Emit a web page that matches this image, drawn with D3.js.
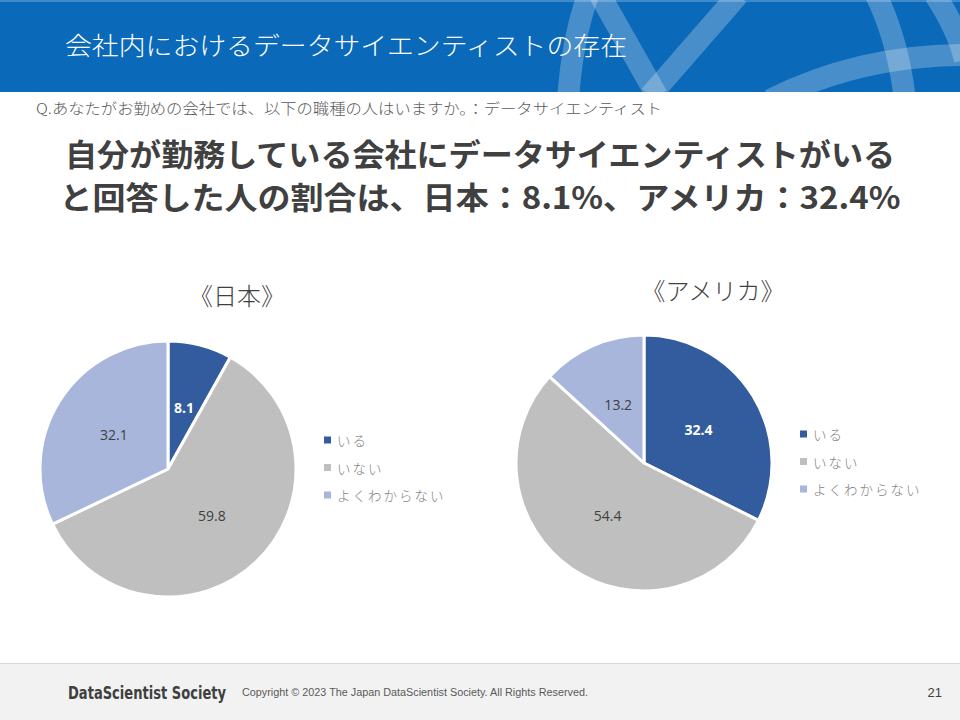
<html>

<head>
    <meta charset="utf-8" />
    <title>会社内におけるデータサイエンティストの存在</title>
    <script src="https://d3js.org/d3.v7.min.js"></script>
    <style>
        body {
            margin: 0;
            font-family: "Noto Sans CJK JP", "Noto Sans", sans-serif;
        }

        .legend-text {
            letter-spacing: 2px;
        }
    </style>
</head>

<body>
    <svg id="slide" width="960" height="720"></svg>
    <script>
        // data
        const categories = ["いる", "いない", "よくわからない"]
        const japanValues = [8.1, 59.8, 32.1]
        const usaValues = [32.4, 54.4, 13.2]
        const chartTitles = ["《日本》", "《アメリカ》"]

        const headerTitle = "会社内におけるデータサイエンティストの存在"
        const question = "Q.あなたがお勤めの会社では、以下の職種の人はいますか。：データサイエンティスト"
        const headline = ["自分が勤務している会社にデータサイエンティストがいる",
            "と回答した人の割合は、日本：8.1%、アメリカ：32.4%"]

        const svg = d3.select("svg#slide")
        const width = +svg.attr("width")
        const height = +svg.attr("height")

        const colorScale = d3.scaleOrdinal()
            .domain(categories)
            .range(["#335C9F", "#BFBFBF", "#A7B6DA"])

        // header band
        const header = svg.append("g").attr("id", "header")
        header.append("rect")
            .attr("x", 0).attr("y", 0).attr("width", width).attr("height", 92)
            .attr("fill", "#0A69B8")
        header.append("rect")
            .attr("x", 0).attr("y", 0).attr("width", width).attr("height", 2)
            .attr("fill", "#3F8ACB")

        // decorative strokes in the band
        const deco = header.append("clipPath").attr("id", "band-clip")
        deco.append("rect").attr("x", 0).attr("y", 0).attr("width", width).attr("height", 92)
        const strokes = header.append("g")
            .attr("clip-path", "url(#band-clip)")
            .attr("fill", "none")
            .attr("stroke", "#ffffff")
            .attr("stroke-opacity", 0.25)
            .attr("stroke-width", 22)
        strokes.append("path").attr("d", "M568,100 Q572,40 588,-5")
        strokes.append("path").attr("d", "M600,-5 L657,96")
        strokes.append("path").attr("d", "M738,-5 L650,96")
        strokes.append("path").attr("d", "M876,-5 Q898,40 905,100")
        strokes.append("path").attr("d", "M935,-5 Q958,30 965,60")
        strokes.append("path").attr("d", "M770,100 Q860,55 965,55")

        header.append("text")
            .attr("x", 65).attr("y", 55)
            .attr("fill", "#ffffff")
            .attr("font-size", 25)
            .attr("font-weight", 300)
            .attr("textLength", 562)
            .attr("lengthAdjust", "spacingAndGlyphs")
            .text(headerTitle)

        svg.append("text")
            .attr("x", 36).attr("y", 114)
            .attr("fill", "#595959")
            .attr("font-size", 14.5)
            .attr("font-weight", 300)
            .attr("textLength", 626)
            .attr("lengthAdjust", "spacingAndGlyphs")
            .text(question)

        svg.selectAll("text.headline").data(headline)
            .join("text").attr("class", "headline")
            .attr("x", width / 2)
            .attr("y", (d, i) => 166 + i * 43)
            .attr("text-anchor", "middle")
            .attr("fill", "#404040")
            .attr("font-size", 31)
            .attr("font-weight", "bold")
            .attr("textLength", (d, i) => i == 0 ? 830 : 841)
            .attr("lengthAdjust", "spacingAndGlyphs")
            .text(d => d)

        // pies
        const pie = d3.pie().sort(null).value(d => d.value)
        const radius = 128
        const arc = d3.arc().innerRadius(0).outerRadius(radius)
        const labelArc = d3.arc().innerRadius(radius * 0.5).outerRadius(radius * 0.5)

        const charts = [{
                values: japanValues,
                title: chartTitles[0],
                cx: 168, cy: 469,
                titleX: 237, titleY: 305,
                legendX: 324, legendY: 440
            },
            {
                values: usaValues,
                title: chartTitles[1],
                cx: 644, cy: 463,
                titleX: 713, titleY: 300,
                legendX: 800, legendY: 434
            }
        ]

        charts.forEach(c => {
            const data = categories.map((k, i) => ({ key: k, value: c.values[i] }))
            const g = svg.append("g").attr("transform", `translate(${c.cx}, ${c.cy})`)

            g.selectAll("path.slice").data(pie(data))
                .join("path").attr("class", "slice")
                .attr("d", arc)
                .attr("fill", d => colorScale(d.data.key))
                .attr("stroke", "#ffffff")
                .attr("stroke-width", 3)
                .attr("stroke-linejoin", "round")

            g.selectAll("text.value").data(pie(data))
                .join("text").attr("class", "value")
                .attr("transform", d => `translate(${labelArc.centroid(d)})`)
                .attr("text-anchor", "middle")
                .attr("dominant-baseline", "central")
                .attr("font-family", "'Open Sans', 'Noto Sans', sans-serif")
                .attr("font-size", 14)
                .attr("font-weight", (d, i) => i == 0 ? "bold" : "normal")
                .attr("fill", (d, i) => i == 0 ? "#ffffff" : "#404040")
                .text(d => d.data.value.toFixed(1))

            svg.append("text")
                .attr("x", c.titleX).attr("y", c.titleY)
                .attr("text-anchor", "middle")
                .attr("fill", "#404040")
                .attr("font-size", 24)
                .attr("font-weight", 300)
                .text(c.title)

            const legend = svg.append("g")
                .attr("transform", `translate(${c.legendX}, ${c.legendY})`)
            const item = legend.selectAll("g.legend-item").data(categories)
                .join("g").attr("class", "legend-item")
                .attr("transform", (d, i) => `translate(0, ${i * 27.5})`)
            item.append("rect")
                .attr("x", 0).attr("y", -3.5)
                .attr("width", 7).attr("height", 7)
                .attr("fill", d => colorScale(d))
            item.append("text").attr("class", "legend-text")
                .attr("x", 13).attr("y", 0)
                .attr("dominant-baseline", "central")
                .attr("fill", "#7F7F7F")
                .attr("font-size", 13.5)
                .attr("font-weight", 300)
                .text(d => d)
        })

        // footer
        const footer = svg.append("g").attr("id", "footer")
        footer.append("rect")
            .attr("x", 0).attr("y", 663).attr("width", width).attr("height", height - 663)
            .attr("fill", "#F2F2F2")
        footer.append("line")
            .attr("x1", 0).attr("x2", width).attr("y1", 663.5).attr("y2", 663.5)
            .attr("stroke", "#D9D9D9")
        footer.append("text")
            .attr("x", 68).attr("y", 699)
            .attr("fill", "#404040")
            .attr("font-family", "'DejaVu Sans Condensed', 'DejaVu Sans', sans-serif")
            .attr("font-weight", "bold")
            .attr("font-size", 18)
            .attr("textLength", 158)
            .attr("lengthAdjust", "spacingAndGlyphs")
            .text("DataScientist Society")
        footer.append("text")
            .attr("x", 242).attr("y", 696)
            .attr("fill", "#595959")
            .attr("font-family", "'Liberation Sans Narrow', 'Liberation Sans', sans-serif")
            .attr("font-size", 10)
            .attr("textLength", 346)
            .attr("lengthAdjust", "spacingAndGlyphs")
            .text("Copyright © 2023 The Japan DataScientist Society. All Rights Reserved.")
        footer.append("text")
            .attr("x", 942).attr("y", 697)
            .attr("text-anchor", "end")
            .attr("fill", "#404040")
            .attr("font-family", "'Liberation Sans Narrow', 'Liberation Sans', sans-serif")
            .attr("font-size", 13)
            .text("21")
    </script>
</body>

</html>
